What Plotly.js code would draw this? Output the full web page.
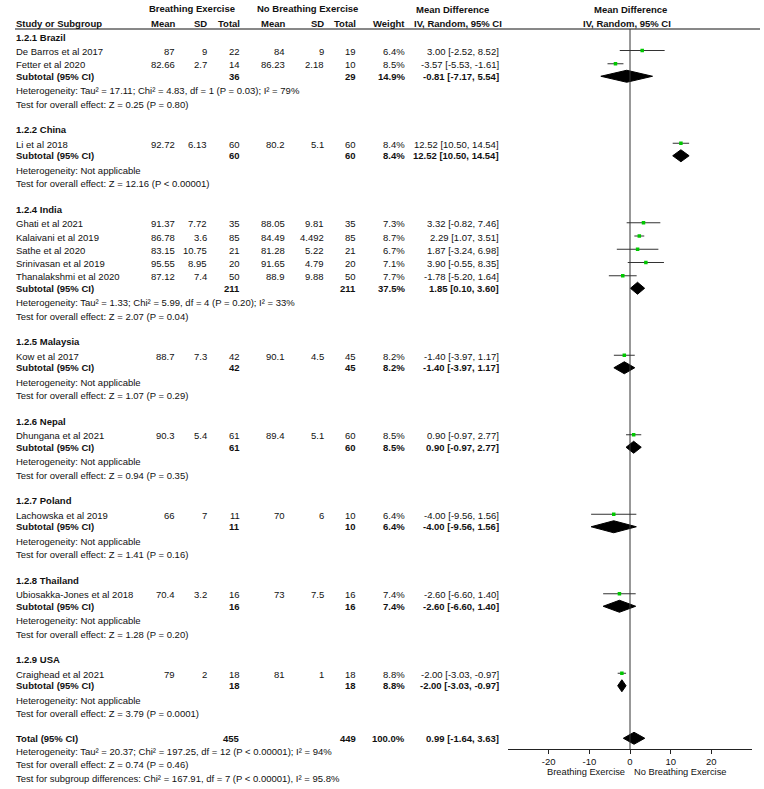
<!DOCTYPE html>
<html>
<head>
<meta charset="utf-8">
<script src="https://cdn.plot.ly/plotly-3.0.1.min.js"></script>
<style>
  html, body { margin: 0; padding: 0; background: #fff; }
  #forest { width: 764px; height: 789px; }
</style>
</head>
<body>
<div id="forest"></div>
<script>
// ==== data ====
const groupLabels = ["1.2.1 Brazil", "1.2.2 China", "1.2.4 India", "1.2.5 Malaysia",
  "1.2.6 Nepal", "1.2.7 Poland", "1.2.8 Thailand", "1.2.9 USA"];

const studyNames = ["De Barros et al 2017", "Fetter et al 2020", "Li et al 2018",
  "Ghati et al 2021", "Kalaivani et al 2019", "Sathe et al 2020", "Srinivasan et al 2019",
  "Thanalakshmi et al 2020", "Kow et al 2017", "Dhungana et al 2021", "Lachowska et al 2019",
  "Ubiosakka-Jones et al 2018", "Craighead et al 2021"];
const studyGroup = [0, 0, 1, 2, 2, 2, 2, 2, 3, 4, 5, 6, 7];

const beMean = [87, 82.66, 92.72, 91.37, 86.78, 83.15, 95.55, 87.12, 88.7, 90.3, 66, 70.4, 79];
const beSD = [9, 2.7, 6.13, 7.72, 3.6, 10.75, 8.95, 7.4, 7.3, 5.4, 7, 3.2, 2];
const beN = [22, 14, 60, 35, 85, 21, 20, 50, 42, 61, 11, 16, 18];
const nbMean = [84, 86.23, 80.2, 88.05, 84.49, 81.28, 91.65, 88.9, 90.1, 89.4, 70, 73, 81];
const nbSD = [9, 2.18, 5.1, 9.81, 4.492, 5.22, 4.79, 9.88, 4.5, 5.1, 6, 7.5, 1];
const nbN = [19, 10, 60, 35, 85, 21, 20, 50, 45, 60, 10, 16, 18];
const studyWeight = [6.4, 8.5, 8.4, 7.3, 8.7, 6.7, 7.1, 7.7, 8.2, 8.5, 6.4, 7.4, 8.8];
const studyMD = [3.00, -3.57, 12.52, 3.32, 2.29, 1.87, 3.90, -1.78, -1.40, 0.90, -4.00, -2.60, -2.00];
const studyLo = [-2.52, -5.53, 10.50, -0.82, 1.07, -3.24, -0.55, -5.20, -3.97, -0.97, -9.56, -6.60, -3.03];
const studyHi = [8.52, -1.61, 14.54, 7.46, 3.51, 6.98, 8.35, 1.64, 1.17, 2.77, 1.56, 1.40, -0.97];

const subBeN = [36, 60, 211, 42, 61, 11, 16, 18];
const subNbN = [29, 60, 211, 45, 60, 10, 16, 18];
const subWeight = [14.9, 8.4, 37.5, 8.2, 8.5, 6.4, 7.4, 8.8];
const subMD = [-0.81, 12.52, 1.85, -1.40, 0.90, -4.00, -2.60, -2.00];
const subLo = [-7.17, 10.50, 0.10, -3.97, -0.97, -9.56, -6.60, -3.03];
const subHi = [5.54, 14.54, 3.60, 1.17, 2.77, 1.56, 1.40, -0.97];

const NA = "Heterogeneity: Not applicable";
const hetText = [
  "Heterogeneity: Tau² = 17.11; Chi² = 4.83, df = 1 (P = 0.03); I² = 79%",
  NA,
  "Heterogeneity: Tau² = 1.33; Chi² = 5.99, df = 4 (P = 0.20); I² = 33%",
  NA, NA, NA, NA, NA
];
const testText = [
  "Test for overall effect: Z = 0.25 (P = 0.80)",
  "Test for overall effect: Z = 12.16 (P < 0.00001)",
  "Test for overall effect: Z = 2.07 (P = 0.04)",
  "Test for overall effect: Z = 1.07 (P = 0.29)",
  "Test for overall effect: Z = 0.94 (P = 0.35)",
  "Test for overall effect: Z = 1.41 (P = 0.16)",
  "Test for overall effect: Z = 1.28 (P = 0.20)",
  "Test for overall effect: Z = 3.79 (P = 0.0001)"
];

const totalBeN = 455;
const totalNbN = 449;
const totalWeight = 100.0;
const totalMD = 0.99;
const totalLo = -1.64;
const totalHi = 3.63;
const totalNotes = [
  "Heterogeneity: Tau² = 20.37; Chi² = 197.25, df = 12 (P < 0.00001); I² = 94%",
  "Test for overall effect: Z = 0.74 (P = 0.46)",
  "Test for subgroup differences: Chi² = 167.91, df = 7 (P < 0.00001), I² = 95.8%"
];

const axisTicks = [-20, -10, 0, 10, 20];
const axisTickText = ["-20", "-10", "0", "10", "20"];
const favourLeft = "Breathing Exercise";
const favourRight = "No Breathing Exercise";

// ==== layout (pixels) ====
const W = 764, H = 789;
const FONT = "Liberation Sans, Arial, Helvetica, sans-serif";
const FS = 9.5;
const col = { name: 15, beMean: 176, beSD: 208, beN: 241, nbMean: 286, nbSD: 325, nbN: 357, weight: 406, md: 500 };
const axisY = 749;
const headerLineY = 29;
const DH = 6; // diamond half height
const MARK_UP = 1; // marks sit a touch above the text middle

// row positions
const gap = { headToStudy: 14.5, study: 13.25, toSub: 11.5, toHet: 14.5, toTest: 13.5, toHead: 25.5 };
const groupY = [], studyY = [], subY = [], hetY = [], testY = [];
let y = 37;
groupLabels.forEach((g, gi) => {
  groupY[gi] = y;
  let first = true;
  studyNames.forEach((s, si) => {
    if (studyGroup[si] !== gi) return;
    y += first ? gap.headToStudy : gap.study;
    first = false;
    studyY[si] = y;
  });
  y += gap.toSub; subY[gi] = y;
  y += gap.toHet; hetY[gi] = y;
  y += gap.toTest; testY[gi] = y;
  y += gap.toHead;
});
const totalY = y - 1;
const totalNoteY = [totalY + 13, totalY + 26, totalY + 40];

const fmt2 = (v) => v.toFixed(2);
const mdText = (m, l, h) => fmt2(m) + " [" + fmt2(l) + ", " + fmt2(h) + "]";

// ==== annotations ====
const annotations = [];
function txt(text, xpx, ypx, anchor, bold, size) {
  annotations.push({
    text: bold ? "<b>" + text + "</b>" : text,
    xref: "paper", yref: "y",
    x: xpx / W, y: ypx,
    xanchor: anchor, yanchor: "middle",
    showarrow: false, borderpad: 0,
    font: { family: FONT, size: size || FS, color: "#111" }
  });
}

// header
txt("Breathing Exercise", 191.5, 8, "center", true);
txt("No Breathing Exercise", 307.5, 8, "center", true);
txt("Mean Difference", 453, 9.5, "center", true);
txt("Mean Difference", 630, 9.5, "center", true);
txt("Study or Subgroup", col.name, 23, "left", true);
txt("Mean", col.beMean, 23, "right", true);
txt("SD", col.beSD, 23, "right", true);
txt("Total", col.beN, 23, "right", true);
txt("Mean", col.nbMean, 23, "right", true);
txt("SD", col.nbSD, 23, "right", true);
txt("Total", col.nbN, 23, "right", true);
txt("Weight", col.weight, 23, "right", true);
txt("IV, Random, 95% CI", 458.5, 23, "center", true);
txt("IV, Random, 95% CI", 627, 23, "center", true);

// studies
studyNames.forEach((s, i) => {
  const yy = studyY[i];
  txt(s, col.name, yy, "left");
  txt(String(beMean[i]), col.beMean, yy, "right");
  txt(String(beSD[i]), col.beSD, yy, "right");
  txt(String(beN[i]), col.beN, yy, "right");
  txt(String(nbMean[i]), col.nbMean, yy, "right");
  txt(String(nbSD[i]), col.nbSD, yy, "right");
  txt(String(nbN[i]), col.nbN, yy, "right");
  txt(studyWeight[i].toFixed(1) + "%", col.weight, yy, "right");
  txt(mdText(studyMD[i], studyLo[i], studyHi[i]), col.md, yy, "right");
});

// groups
groupLabels.forEach((g, i) => {
  txt(g, col.name, groupY[i], "left", true);
  txt("Subtotal (95% CI)", col.name, subY[i], "left", true);
  txt(String(subBeN[i]), col.beN, subY[i], "right", true);
  txt(String(subNbN[i]), col.nbN, subY[i], "right", true);
  txt(subWeight[i].toFixed(1) + "%", col.weight, subY[i], "right", true);
  txt(mdText(subMD[i], subLo[i], subHi[i]), col.md, subY[i], "right", true);
  txt(hetText[i], col.name, hetY[i], "left");
  txt(testText[i], col.name, testY[i], "left");
});

// total
txt("Total (95% CI)", col.name, totalY, "left", true);
txt(String(totalBeN), col.beN, totalY, "right", true);
txt(String(totalNbN), col.nbN, totalY, "right", true);
txt(totalWeight.toFixed(1) + "%", col.weight, totalY, "right", true);
txt(mdText(totalMD, totalLo, totalHi), col.md, totalY, "right", true);
totalNotes.forEach((t, i) => txt(t, col.name, totalNoteY[i], "left"));

// favours labels
txt(favourLeft, 586, 772, "center", false, 9.3);
txt(favourRight, 680, 772, "center", false, 9.3);

// ==== traces ====
const markY = studyY.map((v) => v - MARK_UP);
const ciX = [], ciY = [];
studyNames.forEach((s, i) => {
  ciX.push(studyLo[i], studyHi[i], null);
  ciY.push(markY[i], markY[i], null);
});

const dmX = [], dmY = [];
function diamond(m, l, h, yy) {
  dmX.push(l, m, h, m, l, null);
  dmY.push(yy, yy - DH, yy, yy + DH, yy, null);
}
groupLabels.forEach((g, i) => diamond(subMD[i], subLo[i], subHi[i], subY[i]));
diamond(totalMD, totalLo, totalHi, totalY);

const data = [
  {
    x: ciX, y: ciY, mode: "lines", type: "scatter",
    line: { color: "#333", width: 1 }, hoverinfo: "skip"
  },
  {
    x: studyMD, y: markY, mode: "markers", type: "scatter",
    marker: { symbol: "square", size: 3.5, color: "#00c800" }
  },
  {
    x: dmX, y: dmY, mode: "lines", type: "scatter", fill: "toself",
    fillcolor: "#000", line: { color: "#000", width: 1 }
  }
];

const layout = {
  width: W, height: H,
  margin: { l: 0, r: 0, t: 0, b: 0 },
  paper_bgcolor: "#fff", plot_bgcolor: "rgba(0,0,0,0)",
  showlegend: false,
  xaxis: {
    domain: [508 / W, 752 / W],
    range: [-30, 30],
    anchor: "free",
    position: 1 - axisY / H,
    tickvals: axisTicks,
    ticktext: axisTickText,
    ticks: "outside", ticklen: 4, tickcolor: "#222",
    showline: true, linecolor: "#222", linewidth: 1,
    showgrid: false, zeroline: false,
    tickfont: { family: FONT, size: 9.5, color: "#111" },
    fixedrange: true
  },
  yaxis: {
    domain: [0, 1],
    range: [H, 0],
    visible: false,
    fixedrange: true
  },
  shapes: [
    {
      type: "line", xref: "paper", yref: "y",
      x0: 15 / W, x1: 760 / W, y0: headerLineY, y1: headerLineY,
      line: { color: "#111", width: 1 }
    },
    {
      type: "line", xref: "x", yref: "y",
      x0: 0, x1: 0, y0: headerLineY, y1: axisY,
      line: { color: "#333", width: 1 }
    }
  ],
  annotations: annotations
};

Plotly.newPlot("forest", data, layout, { displayModeBar: false, staticPlot: true });
</script>
</body>
</html>
